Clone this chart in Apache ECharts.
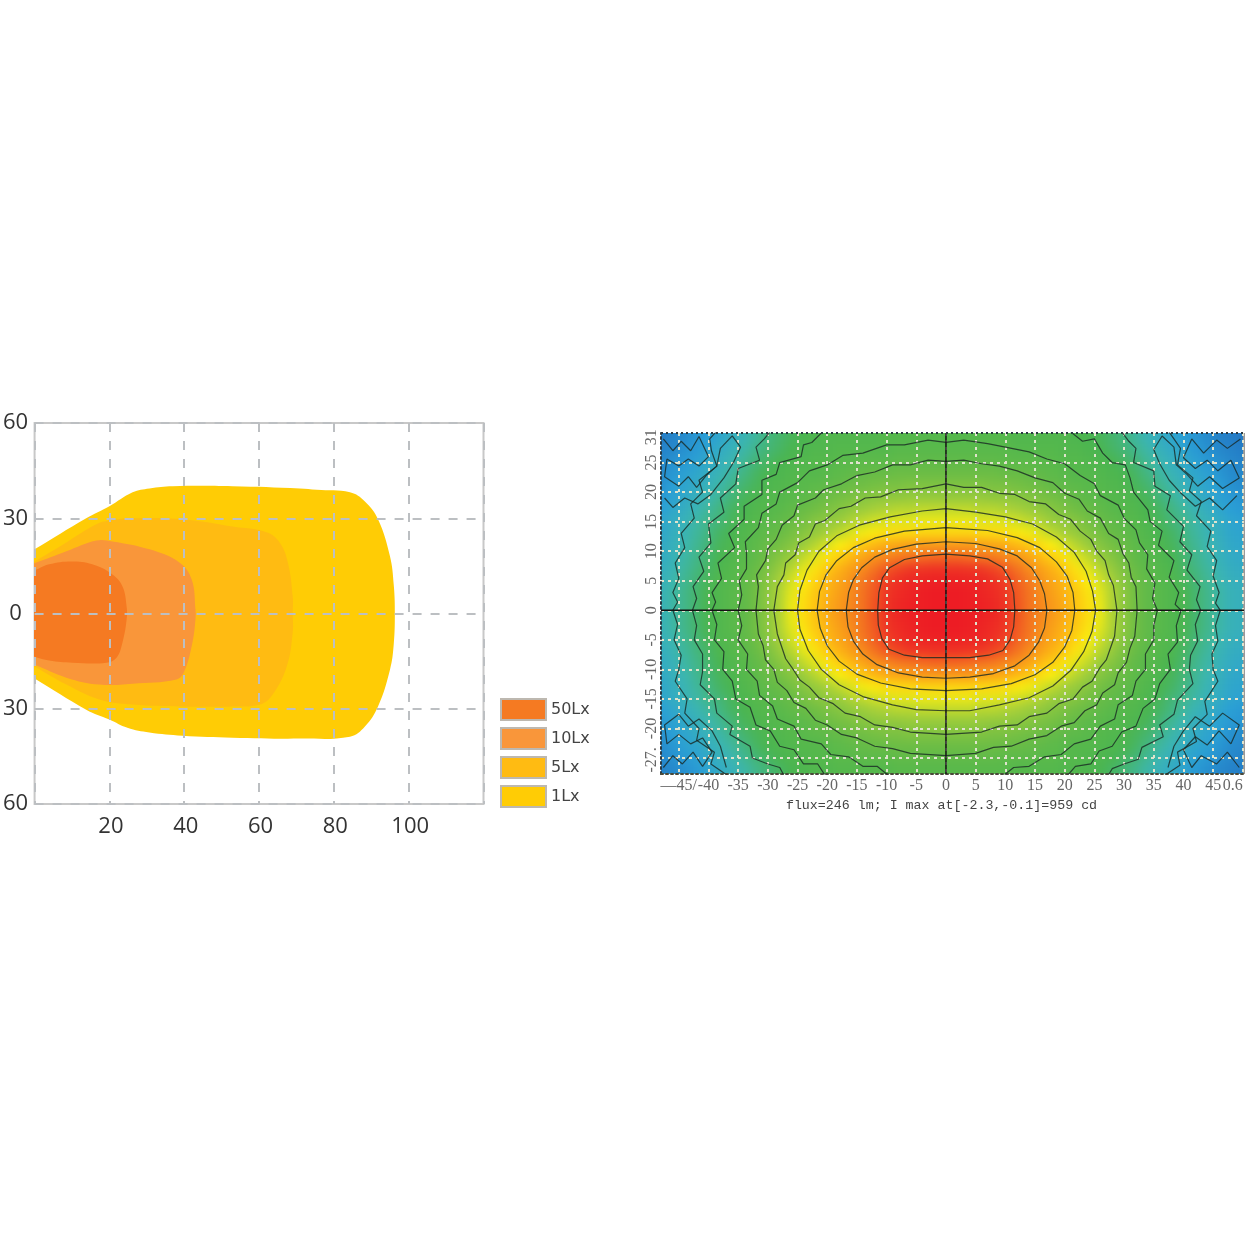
<!DOCTYPE html>
<html>
<head>
<meta charset="utf-8">
<title>beam pattern</title>
<script src="https://cdn.jsdelivr.net/npm/echarts@6/dist/echarts.min.js"></script>
<style>
  html, body { margin: 0; padding: 0; background: #fff; }
  #chart { width: 1252px; height: 1252px; }
</style>
</head>
<body>
<div id="chart"></div>
<script>
// left chart, outlines of each lux level [metres, metres]
const lx1Outline = [[-6,16],[0,20.2],[13.8,30],[20,33.8],[26.2,38.2],[30.7,39.4],[36.9,40.1],[52.9,40.1],[70.9,39.4],[75.4,39],[84.3,38.2],[88.3,35.3],[91.8,29.7],[95,18],[96,9.1],[96.3,0],[96,-9.8],[95,-17.7],[91.8,-29.3],[88.3,-35.6],[84.3,-38.8],[70.9,-39.4],[52.9,-39.1],[39.5,-38.5],[30.7,-37.5],[24.8,-36],[20,-33.4],[13.8,-30.3],[0,-20.5],[-6,-16.5]];
const lx5Outline = [[-6,12.2],[0,16.4],[8.5,22.4],[16.5,28.1],[20,29.3],[26.2,30],[39.5,29.7],[52.9,27.4],[62,25.6],[65.5,22.4],[67.7,16.1],[69,5.4],[69,0],[69,-6],[67.4,-16.7],[63.6,-25.6],[60.2,-28.7],[52.9,-29.3],[39.5,-29.3],[26.2,-28.7],[17.3,-27.1],[8.5,-22.4],[0,-16.7],[-6,-12.6]];
const lx10Outline = [[-6,13.2],[0,15.8],[8.5,19.6],[16.5,23],[20.8,22.7],[30.7,20.2],[38.7,16.1],[42,10.7],[43,1.3],[43,-1.9],[42.2,-9.1],[40,-18.3],[37.9,-20.8],[26.2,-22.1],[17.3,-22.4],[8.5,-20.2],[0,-16.1],[-6,-13.2]];
const lx50Outline = [[-6,11.5],[0,13.6],[3.9,15.5],[9.8,16.4],[15.4,15.5],[20.8,12.3],[23.5,8.5],[24.6,2.2],[24.6,-1.9],[23.5,-9.1],[21.9,-13.9],[19.2,-15.5],[10.1,-15.5],[3.9,-14.8],[0,-13.6],[-6,-11.5]];
const legendNames = ['50Lx', '10Lx', '5Lx', '1Lx'];

const fluxXs = [-48,-46,-44,-42,-40,-38,-36,-34,-32,-30,-28,-26,-24,-22,-20,-18,-16,-14,-12,-10,-8,-6,-4,-2,0,2,4,6,8,10,12,14,16,18,20,22,24,26,28,30,32,34,36,38,40,42,44,46,48,50];
const fluxYs = [29,27,25,23,21,19,17,15,13,11,9,7,5,3,1,-1,-3,-5,-7,-9,-11,-13,-15,-17,-19,-21,-23,-25,-27];
const fluxRows = [
[3,4,6,8,10,13,16,19,22,25,27,29,30,31,32,32,32,32,32,33,33,33,33,33,33,33,33,33,33,33,32,32,32,32,32,31,30,29,27,25,22,19,16,13,10,8,6,4,3,2],
[4,5,7,9,12,15,18,21,24,26,28,30,31,32,32,33,33,33,33,33,34,34,34,34,34,34,34,34,34,34,33,33,33,33,32,32,31,30,28,26,24,21,18,15,12,9,7,5,4,3],
[5,7,9,11,14,17,20,23,26,28,30,31,32,33,33,34,34,35,35,35,36,36,36,36,36,36,36,36,36,35,35,35,34,34,33,33,32,31,30,28,26,23,20,17,14,11,9,7,5,4],
[6,8,11,13,16,19,22,25,28,30,31,32,33,33,34,35,36,37,38,38,39,39,39,39,39,39,39,39,39,38,38,37,36,35,34,33,33,32,31,30,28,25,22,19,16,13,11,8,6,5],
[7,10,12,15,18,21,24,27,29,31,32,33,34,35,36,37,39,40,41,42,42,43,43,43,43,43,43,43,42,42,41,40,39,37,36,35,34,33,32,31,29,27,24,21,18,15,12,10,7,6],
[9,11,14,17,20,23,26,29,31,32,33,34,35,37,39,41,42,44,45,46,46,47,47,47,47,47,47,47,46,46,45,44,42,41,39,37,35,34,33,32,31,29,26,23,20,17,14,11,9,8],
[10,13,16,19,22,25,28,30,32,33,34,36,38,40,42,44,46,48,50,51,52,52,53,53,53,53,53,52,52,51,50,48,46,44,42,40,38,36,34,33,32,30,28,25,22,19,16,13,10,9],
[12,15,18,21,24,26,29,31,33,34,36,38,41,44,46,48,51,53,55,56,57,57,58,58,58,58,58,57,57,56,55,53,51,48,46,44,41,38,36,34,33,31,29,26,24,21,18,15,12,11],
[13,16,19,22,25,28,30,32,34,36,38,41,44,47,50,53,56,59,61,63,64,64,65,65,65,65,65,64,64,63,61,59,56,53,50,47,44,41,38,36,34,32,30,28,25,22,19,16,13,12],
[14,17,20,23,26,29,31,33,35,38,41,44,48,52,56,60,63,67,70,72,73,74,75,75,75,75,75,74,73,72,70,67,63,60,56,52,48,44,41,38,35,33,31,29,26,23,20,17,14,13],
[15,18,21,24,27,30,32,34,36,40,44,48,53,57,62,66,70,73,76,78,80,81,82,83,83,83,82,81,80,78,76,73,70,66,62,57,53,48,44,40,36,34,32,30,27,24,21,18,15,14],
[16,19,22,25,28,31,33,35,38,42,47,52,57,62,67,71,74,77,81,85,88,90,91,92,92,92,91,90,88,85,81,77,74,71,67,62,57,52,47,42,38,35,33,31,28,25,22,19,16,15],
[17,20,23,26,29,32,33,36,39,44,50,55,60,65,70,73,76,80,84,89,93,96,97,98,98,98,97,96,93,89,84,80,76,73,70,65,60,55,50,44,39,36,33,32,29,26,23,20,17,16],
[18,21,24,27,30,32,34,36,40,45,51,57,62,67,71,74,77,81,85,91,95,97,99,100,100,100,99,97,95,91,85,81,77,74,71,67,62,57,51,45,40,36,34,32,30,27,24,21,18,17],
[18,21,24,27,30,32,34,36,40,45,51,58,63,68,72,75,78,81,86,92,96,98,99,100,100,100,99,98,96,92,86,81,78,75,72,68,63,58,51,45,40,36,34,32,30,27,24,21,18,17],
[18,21,24,27,30,32,34,36,40,45,51,58,63,68,72,75,78,81,86,92,96,98,99,100,100,100,99,98,96,92,86,81,78,75,72,68,63,58,51,45,40,36,34,32,30,27,24,21,18,17],
[18,21,24,27,30,32,34,36,40,45,51,57,62,67,71,74,77,81,85,91,95,97,99,100,100,100,99,97,95,91,85,81,77,74,71,67,62,57,51,45,40,36,34,32,30,27,24,21,18,17],
[17,20,23,26,29,32,33,36,39,44,50,55,60,65,70,73,76,80,84,89,93,96,97,98,98,98,97,96,93,89,84,80,76,73,70,65,60,55,50,44,39,36,33,32,29,26,23,20,17,16],
[16,19,22,25,28,31,33,35,38,42,47,52,57,62,67,71,74,77,81,85,88,90,91,92,92,92,91,90,88,85,81,77,74,71,67,62,57,52,47,42,38,35,33,31,28,25,22,19,16,15],
[15,18,21,24,27,30,32,34,36,40,44,48,53,57,62,66,70,73,76,78,80,81,82,83,83,83,82,81,80,78,76,73,70,66,62,57,53,48,44,40,36,34,32,30,27,24,21,18,15,14],
[14,17,20,23,26,29,31,33,35,38,41,44,48,52,56,60,63,67,70,72,73,74,75,75,75,75,75,74,73,72,70,67,63,60,56,52,48,44,41,38,35,33,31,29,26,23,20,17,14,13],
[13,16,19,22,25,28,30,32,34,36,38,41,44,47,50,53,56,59,61,63,64,64,65,65,65,65,65,64,64,63,61,59,56,53,50,47,44,41,38,36,34,32,30,28,25,22,19,16,13,12],
[12,15,18,21,24,26,29,31,33,34,36,38,41,44,46,48,51,53,55,56,57,57,58,58,58,58,58,57,57,56,55,53,51,48,46,44,41,38,36,34,33,31,29,26,24,21,18,15,12,11],
[10,13,16,19,22,25,28,30,32,33,34,36,38,40,42,44,46,48,50,51,52,52,53,53,53,53,53,52,52,51,50,48,46,44,42,40,38,36,34,33,32,30,28,25,22,19,16,13,10,9],
[9,11,14,17,20,23,26,29,31,32,33,34,35,37,39,41,42,44,45,46,46,47,47,47,47,47,47,47,46,46,45,44,42,41,39,37,35,34,33,32,31,29,26,23,20,17,14,11,9,8],
[7,10,12,15,18,21,24,27,29,31,32,33,34,35,36,37,39,40,41,42,42,43,43,43,43,43,43,43,42,42,41,40,39,37,36,35,34,33,32,31,29,27,24,21,18,15,12,10,7,6],
[6,8,11,13,16,19,22,25,28,30,31,32,33,33,34,35,36,37,38,38,39,39,39,39,39,39,39,39,39,38,38,37,36,35,34,33,33,32,31,30,28,25,22,19,16,13,11,8,6,5],
[5,7,9,11,14,17,20,23,26,28,30,31,32,33,33,34,34,35,35,35,36,36,36,36,36,36,36,36,36,35,35,35,34,34,33,33,32,31,30,28,26,23,20,17,14,11,9,7,5,4],
[4,5,7,9,12,15,18,21,24,26,28,30,31,32,32,33,33,33,33,33,34,34,34,34,34,34,34,34,34,34,33,33,33,33,32,32,31,30,28,26,24,21,18,15,12,9,7,5,4,3]
];

// iso lines
const contour1 = [[-11.5,0],[-11.3,3],[-10.7,5.5],[-9.5,7.2],[-7,8.6],[-4,9.2],[0,9.5],[4,9.2],[7,8.7],[9.5,7.3],[10.8,5.2],[11.4,3],[11.6,0],[11.4,-2.8],[10.8,-5],[9.6,-6.8],[7.2,-7.6],[4,-8],[0,-8],[-4,-8],[-7,-7.6],[-9.6,-6.6],[-10.8,-4.8],[-11.4,-2.5],[-11.5,0]];
const contour2 = [[-16.8,0],[-16.4,3],[-15.6,5.2],[-14.2,7.2],[-12,9],[-9,10.3],[-5,11.2],[0,11.6],[5,11.3],[9,10.4],[12,9.2],[14.4,7.2],[15.8,5],[16.6,2.8],[17,0],[16.6,-3],[15.6,-5.4],[14,-7.6],[11.6,-9.4],[8,-10.7],[4,-11.3],[0,-11.5],[-4,-11.3],[-8,-10.6],[-11.6,-9.2],[-14,-7.4],[-15.6,-5.2],[-16.5,-2.8],[-16.8,0]];
const contour3 = [[-21.7,0],[-21.3,3.2],[-20.2,6],[-18.4,8.4],[-15.6,10.6],[-12,12.2],[-7,13.4],[0,14],[7,13.5],[12,12.3],[15.8,10.6],[18.6,8.2],[20.4,5.8],[21.4,3],[21.7,0],[21.2,-3.4],[20,-6.2],[18,-8.8],[15,-10.9],[11,-12.4],[6,-13.3],[0,-13.6],[-6,-13.3],[-11,-12.3],[-15,-10.8],[-18,-8.6],[-20,-6],[-21.2,-3],[-21.7,0]];
const contour4 = [[-25,0],[-24.6,3.4],[-23.4,6.8],[-21.4,10],[-18.4,12.6],[-14.6,14.4],[-9.4,15.8],[-4,16.8],[0,17.2],[5,16.6],[10,15.8],[14.6,14.6],[18.6,12.4],[21.6,9.8],[23.6,6.6],[24.7,3.2],[25.2,0],[24.6,-3.6],[23.2,-7],[21,-10.2],[18,-12.8],[14,-14.8],[9,-16],[4,-17],[0,-17],[-5,-16.8],[-9,-16],[-14,-14.6],[-18,-12.6],[-21,-10],[-23.2,-6.8],[-24.6,-3.2],[-25,0]];
const contour5 = [[-29,0],[-28.7,2],[-28.4,4],[-27.3,6],[-27,8],[-25.4,9.4],[-24.8,11.4],[-23,12.4],[-22,14.6],[-20.4,15.2],[-18,17.2],[-16,17.6],[-13.6,19],[-11,19.2],[-8,20.4],[-4,20.6],[0,21.4],[3,20.8],[6,20.8],[9,19.8],[11.6,19.6],[14,18.4],[16.8,18],[19,16.2],[21,15.4],[22.6,13.4],[24.4,12],[25.4,10],[26.8,8.4],[27.4,6],[28.2,4.2],[28.8,0],[28.4,-4.4],[27,-8.4],[26,-9.6],[24.6,-12],[23,-13],[21.4,-15],[19,-15.8],[17,-17.4],[14,-18],[12,-19.4],[9,-19.6],[6,-20.6],[0,-21],[-6,-20.6],[-9,-19.8],[-12,-19.4],[-14.4,-18],[-17,-17.4],[-19,-15.8],[-21.4,-14.8],[-23,-13],[-24.6,-11.8],[-26,-9.6],[-27,-8.2],[-28.4,-4],[-29,0]];
const contour6 = [[-32,0],[-31.6,4],[-31.9,6],[-30.4,8.4],[-30,10.4],[-28.6,12],[-27.6,14.4],[-25.6,16],[-25,17.8],[-22,19],[-20.6,20.4],[-17.6,21.4],[-15,22.8],[-12,23.4],[-9,24.6],[-6,24.6],[-3,25.4],[0,25.2],[3,25.4],[6,24.8],[9,24.4],[12,23.6],[15,22.4],[18,21.6],[20,19.8],[22.4,18.8],[23.8,16.8],[26,15.6],[27.4,13],[29,12],[29.8,9.6],[30.8,8],[31.2,5.6],[32,4],[32.2,0],[31.8,-4.4],[31,-6.4],[30.4,-8.8],[29,-10.6],[28.4,-12.6],[26.4,-14],[25.4,-16],[23.4,-17],[21.6,-19],[19.4,-19.6],[17,-21.2],[14,-21.8],[11,-23],[8,-23.2],[5,-24.2],[0,-24.6],[-6,-24.2],[-9,-23.4],[-12,-23],[-15,-21.6],[-17.6,-21],[-20,-19.4],[-22,-18.6],[-23.6,-16.6],[-25.6,-15.6],[-26.8,-13.6],[-28.4,-12.2],[-29,-10],[-30.4,-8.4],[-30.8,-6],[-31.6,-4],[-32,0]];
const contour7 = [[-9,-28.5],[-11.6,-26.4],[-14,-26.4],[-16.4,-24.8],[-19.4,-24.4],[-21,-22.6],[-24.4,-21.8],[-25.6,-19.6],[-28.4,-18.4],[-29.2,-16.2],[-31.4,-14.4],[-31.8,-12],[-33.6,-10],[-33.4,-7.4],[-35,-5],[-34.4,-2.6],[-35,0],[-34.4,2.6],[-34.8,5],[-33.6,7],[-33.6,9.6],[-33.8,11.6],[-31.6,14],[-31,16.4],[-28.6,18],[-28,20],[-25,21.6],[-23,23.6],[-20,24.6],[-17.4,26.2],[-14,26.6],[-10,28],[-7,28],[-3,28.8],[0,28.4],[3,28.8],[7,28.2],[10,27.6],[14,26.8],[17,25.6],[20,24.8],[22.6,22.8],[25,21.4],[26,19.4],[29,17.8],[30,15.6],[32,13.6],[32.6,11.4],[34,9.4],[33.8,7],[35.2,4.6],[34.8,2],[35.6,0],[35,-2.6],[35,-5],[33.6,-7.4],[33.6,-10],[32,-12],[31.4,-14.4],[29,-16],[28.4,-18.4],[26,-19.6],[24.4,-21.8],[21.6,-22.6],[19.4,-24.4],[16.6,-24.8],[14,-26.4],[11.4,-26.6],[9,-28.5]];
const contour8L = [[-20,31],[-22.6,28.4],[-24,28],[-24.4,26],[-28,25],[-28.6,23],[-31,22],[-31,19.6],[-34,17.6],[-34,15.4],[-36.6,13],[-35.6,10.6],[-38.4,8],[-37.8,5.4],[-39.4,3],[-38.8,1.4],[-39.4,0],[-38.6,-2.4],[-39,-5],[-37.4,-7],[-37.6,-10],[-36,-12],[-35.4,-15],[-33,-16.4],[-32,-19.4],[-29.6,-20.4],[-28,-23],[-25.6,-23.6],[-24,-26],[-21.6,-26],[-20,-28.5]];
const contour8R = [[20,31],[23,28.6],[25,29],[26.4,26.6],[28,25],[30.2,24.6],[31,22.4],[31.6,20],[34,17],[34.4,15],[36.4,13.4],[35.8,11],[38.4,8.4],[37.6,5.6],[39.2,3],[38.6,1],[39.6,0],[38.8,-2.6],[39,-5.4],[37.4,-7.4],[37.8,-10],[36,-12.4],[35.2,-15],[33.2,-16.6],[32,-19.6],[29.6,-20.6],[28,-23],[25.8,-23.8],[24.4,-26],[21.8,-26.4],[20,-28.5]];
const contour9L = [[-29,31],[-30.6,29],[-32,27.6],[-31.4,25.4],[-35,24],[-35.4,21.4],[-38,19],[-37.4,16.6],[-40,14.6],[-39.6,11.4],[-41.6,9],[-40.8,6.6],[-42.6,4],[-42,2],[-42.7,0],[-42,-2.6],[-42.4,-5],[-41,-7.4],[-41,-10.4],[-41.4,-12.6],[-39,-15],[-38.6,-17.4],[-36,-19.6],[-36.4,-21],[-33,-23],[-32.6,-25],[-30,-26],[-28,-26.6],[-27,-28.5]];
const contour9R = [[29,31],[30.8,28.6],[32,27.4],[31.6,25],[35,23.6],[35.2,21],[37.8,19.4],[37.2,17],[40,14.2],[39.4,11.6],[41.4,9.4],[40.6,6.8],[42.8,4],[42.2,1.8],[42.9,0],[42,-2.4],[42.4,-5.2],[41.2,-7.6],[41,-10],[41.6,-12.4],[39,-15.2],[38.4,-17.6],[36,-19.4],[36.6,-21.4],[33,-23.2],[32.4,-25.2],[30,-26],[28,-26.8],[27,-28.5]];
const contour10L = [[-38,31],[-39.8,29],[-39.5,27],[-38.6,24.4],[-41.6,22],[-41,20],[-43,18],[-42.4,15.6],[-44.6,13],[-44,10.6],[-45.6,8],[-45,5.4],[-46,3],[-45.2,1.4],[-46,0],[-45.2,-2.4],[-45.8,-5],[-44.6,-7.6],[-45,-10],[-45.6,-12],[-43.6,-15],[-44,-17.4],[-41.6,-20],[-42,-22],[-39,-24],[-39.6,-26],[-36,-28.5]];
const contour10R = [[37,31],[38.4,29],[39.5,27.4],[39,24.6],[41.6,22.4],[41,20.2],[43,18.4],[42.2,16],[44.6,13.4],[44,10.8],[45.6,8.4],[45,5.8],[46,3],[45.4,1.2],[46.2,0],[45.4,-2.6],[45.8,-5.2],[44.8,-7.4],[45,-10],[45.8,-12],[43.6,-15.4],[44,-17.6],[41.6,-20],[42.2,-22.2],[39,-24],[39.4,-26.2],[36,-28.5]];
const noiseTL = [[-47.6,29],[-46,27],[-44.6,28.6],[-43,27],[-41.6,29.4],[-40,26],[-41.6,24.4],[-43.4,25.6],[-45,24.4],[-47,25.6],[-47.4,22.6],[-45,21],[-43.4,22.6],[-42,20.8],[-40.4,22.8],[-38.6,24.4],[-38,27.4],[-36,29.5],[-34.6,27.6],[-35.8,25],[-37.4,22.4],[-39.6,19.6],[-41.8,18],[-44,19],[-46,17.4],[-47.4,19]];
const noiseTR = [[49.6,29],[47.4,27.4],[45.6,28.8],[43.4,26.6],[41.4,29],[40,25.8],[42,24],[44,25.4],[45.8,23.6],[48,25.4],[49.4,22.4],[46.6,20.6],[44.4,22.6],[42.4,21],[40.6,23],[38.8,24.6],[38.4,27.6],[36.4,29.5],[35,27.2],[36,24.8],[37.6,22],[39.6,19.8],[42,17.6],[44.4,19],[46.6,17],[49,19.4]];
const noiseBL = [[-47.6,-26.6],[-46,-24.6],[-44.4,-26],[-42.6,-24],[-41,-26.4],[-39.4,-24],[-41,-21.6],[-43,-22.6],[-45,-21],[-47,-22.6],[-47.4,-19.4],[-45,-17.6],[-43.4,-19.6],[-41.6,-18.4],[-39.4,-20.4],[-38,-23],[-37,-26.6]];
const noiseBR = [[49.4,-26.6],[47.4,-24],[45.6,-26],[43,-24.6],[41.4,-26.6],[40,-23.6],[42,-21.4],[44,-22.8],[46,-20.4],[48,-22.6],[49.4,-19.4],[46.6,-17.4],[44.4,-19.6],[42,-18],[40,-20.4],[38.4,-23],[37.4,-26.6]];
const contourLines = [contour1,contour2,contour3,contour4,contour5,contour6,contour7,contour8L,contour8R,contour9L,contour9R,contour10L,contour10R,noiseTL,noiseTR,noiseBL,noiseBR];

const xGridTicks = [-45,-40,-35,-30,-25,-20,-15,-10,-5,0,5,10,15,20,25,30,35,40,45,50];
const yGridTicks = [-25,-20,-15,-10,-5,0,5,10,15,20,25];
const xLabelValues = [-45,-40,-35,-30,-25,-20,-15,-10,-5,0,5,10,15,20,25,30,35,40,45,48.3];
const xLabelTexts = ['—45/','-40','-35','-30','-25','-20','-15','-10','-5','0','5','10','15','20','25','30','35','40','45','0.6'];
const yLabelValues = [-25.3,-20,-15,-10,-5,0,5,10,15,20,25,29.3];
const yLabelTexts = ['-27.','-20','-15','-10','-5','0','5','10','15','20','25','31'];

let fluxData = [];
fluxYs.forEach((y, r) => {
  fluxXs.forEach((x, c) => fluxData.push([x, y, fluxRows[r][c]]));
});

function outlineSeries(name, color, outline) {
  return {
    name: name,
    type: 'custom',
    xAxisIndex: 0,
    yAxisIndex: 0,
    coordinateSystem: 'cartesian2d',
    clip: true,
    zlevel: 1,
    z: 1,
    itemStyle: { color: color },
    data: outline,
    renderItem(params, api) {
      if (params.dataIndex > 0) return null;
      return {
        type: 'polygon',
        shape: { points: outline.map(p => api.coord(p)), smooth: 0.4 },
        style: { fill: color }
      };
    }
  };
}

let chart = echarts.init(document.getElementById('chart'));
let series = [
  outlineSeries('1Lx', '#ffcc05', lx1Outline),
  outlineSeries('5Lx', '#ffbb12', lx5Outline),
  outlineSeries('10Lx', '#f9963a', lx10Outline),
  outlineSeries('50Lx', '#f57a22', lx50Outline),
  {
    name: 'flux',
    type: 'custom',
    xAxisIndex: 1,
    yAxisIndex: 1,
    clip: false,
    zlevel: 0,
    z: 1,
    encode: { x: 0, y: 1 },
    data: fluxData,
    renderItem(params, api) {
      let a = api.coord([api.value(0) - 1, api.value(1) + 1]);
      let b = api.coord([api.value(0) + 1, api.value(1) - 1]);
      // edge cells run past the frame so the soft layer does not fade out there
      let left = api.value(0) === fluxXs[0] ? a[0] - 20 : a[0];
      let right = api.value(0) === fluxXs[fluxXs.length - 1] ? b[0] + 20 : b[0];
      let top = api.value(1) === fluxYs[0] ? a[1] - 20 : a[1];
      let bottom = api.value(1) === fluxYs[fluxYs.length - 1] ? b[1] + 20 : b[1];
      return {
        type: 'rect',
        shape: { x: Math.floor(left), y: Math.floor(top), width: Math.ceil(right - left) + 1, height: Math.ceil(bottom - top) + 1 },
        style: { fill: api.visual('color') }
      };
    }
  },
  {
    type: 'line', xAxisIndex: 1, yAxisIndex: 1, symbol: 'none', silent: true, zlevel: 2, z: 5,
    lineStyle: { color: '#111', width: 1.5 },
    data: [[0, -27.7], [0, 30]]
  },
  {
    type: 'line', xAxisIndex: 1, yAxisIndex: 1, symbol: 'none', silent: true, zlevel: 2, z: 5,
    lineStyle: { color: '#111', width: 1.5 },
    data: [[-48, 0], [50.2, 0]]
  },
  {
    type: 'line', xAxisIndex: 1, yAxisIndex: 1, symbol: 'none', silent: true, zlevel: 2, z: 5,
    lineStyle: { color: '#2c3a44', width: 2, type: [2, 3] },
    data: [[-48, 30], [50.2, 30]]
  },
  {
    type: 'line', xAxisIndex: 1, yAxisIndex: 1, symbol: 'none', silent: true, zlevel: 2, z: 2,
    lineStyle: { color: '#9a9a9a', width: 2 },
    data: [[50.2, -27.7], [50.2, 30]]
  }
];
contourLines.forEach(line => {
  series.push({
    type: 'line', xAxisIndex: 1, yAxisIndex: 1, symbol: 'none', silent: true, zlevel: 2, z: 4,
    lineStyle: { color: 'rgba(25,40,35,0.8)', width: 1.2 },
    data: line
  });
});

let option = {
  animation: false,
  grid: [
    { left: 34, top: 423, width: 449.5, height: 381, show: true, zlevel: 1, borderColor: '#c8c8c8', borderWidth: 2, backgroundColor: 'transparent' },
    { left: 661, top: 433, width: 583, height: 341 }
  ],
  legend: {
    left: 500,
    top: 698,
    padding: 0,
    zlevel: 1,
    orient: 'vertical',
    selectedMode: false,
    itemWidth: 45,
    itemHeight: 21,
    itemGap: 6,
    data: legendNames,
    icon: 'rect',
    itemStyle: { borderColor: '#bdb8b0', borderWidth: 2 },
    textStyle: { fontFamily: 'DejaVu Sans', fontSize: 16, color: '#444' }
  },
  visualMap: {
    show: false,
    seriesIndex: 4,
    dimension: 2,
    min: 0,
    max: 100,
    inRange: { color: ['#2170c0','#2a9fd6','#3cb6b0','#4ab550','#70be44','#a5cf3a','#fbee0f','#fdb913','#f47a20','#ee3a24','#ed1c24'] }
  },
  xAxis: [
    {
      type: 'value', gridIndex: 0, min: 0, max: 120, interval: 20, zlevel: 1, z: 3,
      axisLine: { show: false }, axisTick: { show: false },
      axisLabel: { margin: 12, padding: [0, 0, 0, 3], fontFamily: 'Open Sans', fontSize: 22, color: '#333', formatter: v => (v === 0 || v === 120) ? '' : v },
      splitLine: { show: true, lineStyle: { color: '#bcbfc2', width: 2, type: [9, 9] } }
    },
    {
      type: 'value', gridIndex: 1, min: -48, max: 50.2, zlevel: 2, z: 3,
      axisLine: { show: true, onZero: false, lineStyle: { color: '#4a4a3a', width: 2, type: [2, 3] } },
      axisTick: { show: false, customValues: xGridTicks },
      axisLabel: {
        margin: 4, fontFamily: 'Liberation Serif', fontSize: 16, color: '#666',
        customValues: xLabelValues, formatter: v => xLabelTexts[xLabelValues.indexOf(v)]
      },
      splitLine: { show: true, lineStyle: { color: '#dfe3cc', width: 2, type: [3, 4] } },
      name: 'flux=246 lm; I max at[-2.3,-0.1]=959 cd',
      nameLocation: 'middle',
      nameGap: 25,
      nameTextStyle: { fontFamily: 'Liberation Mono', fontSize: 13.3, color: '#444', padding: [0, 22, 0, 0] }
    }
  ],
  yAxis: [
    {
      type: 'value', gridIndex: 0, min: -60, max: 60, interval: 30, zlevel: 1, z: 3,
      axisLine: { show: false }, axisTick: { show: false },
      axisLabel: { margin: 19, align: 'center', padding: [10, 0, 0, 0], fontFamily: 'Open Sans', fontSize: 22, color: '#333', formatter: v => Math.abs(v) },
      splitLine: { show: true, lineStyle: { color: '#bcbfc2', width: 2, type: [9, 9] } }
    },
    {
      type: 'value', gridIndex: 1, min: -27.7, max: 30, zlevel: 2, z: 3,
      axisLine: { show: true, onZero: false, lineStyle: { color: '#2c3a44', width: 2, type: [2, 3] } },
      axisTick: { show: false, customValues: yGridTicks },
      axisLabel: {
        margin: 1, rotate: 90, fontFamily: 'Liberation Serif', fontSize: 16, color: '#666',
        customValues: yLabelValues, formatter: v => yLabelTexts[yLabelValues.indexOf(v)]
      },
      splitLine: { show: true, lineStyle: { color: '#dfe3cc', width: 2, type: [3, 4] } }
    }
  ],
  series: series
};
chart.setOption(option);

// the source is a soft scan, so the colour field and its overlay get blurred layers
let canvases = chart.getDom().querySelectorAll('canvas');
let topLeft = chart.convertToPixel({ xAxisIndex: 1, yAxisIndex: 1 }, [-48, 30]);
let bottomRight = chart.convertToPixel({ xAxisIndex: 1, yAxisIndex: 1 }, [50.2, -27.7]);
canvases[0].style.filter = 'blur(5px)';
canvases[0].style.clipPath = 'inset(' + topLeft[1] + 'px ' + (1252 - bottomRight[0]) + 'px ' + (1252 - bottomRight[1]) + 'px ' + topLeft[0] + 'px)';
if (canvases[2]) canvases[2].style.filter = 'blur(0.6px)';
</script>
</body>
</html>
